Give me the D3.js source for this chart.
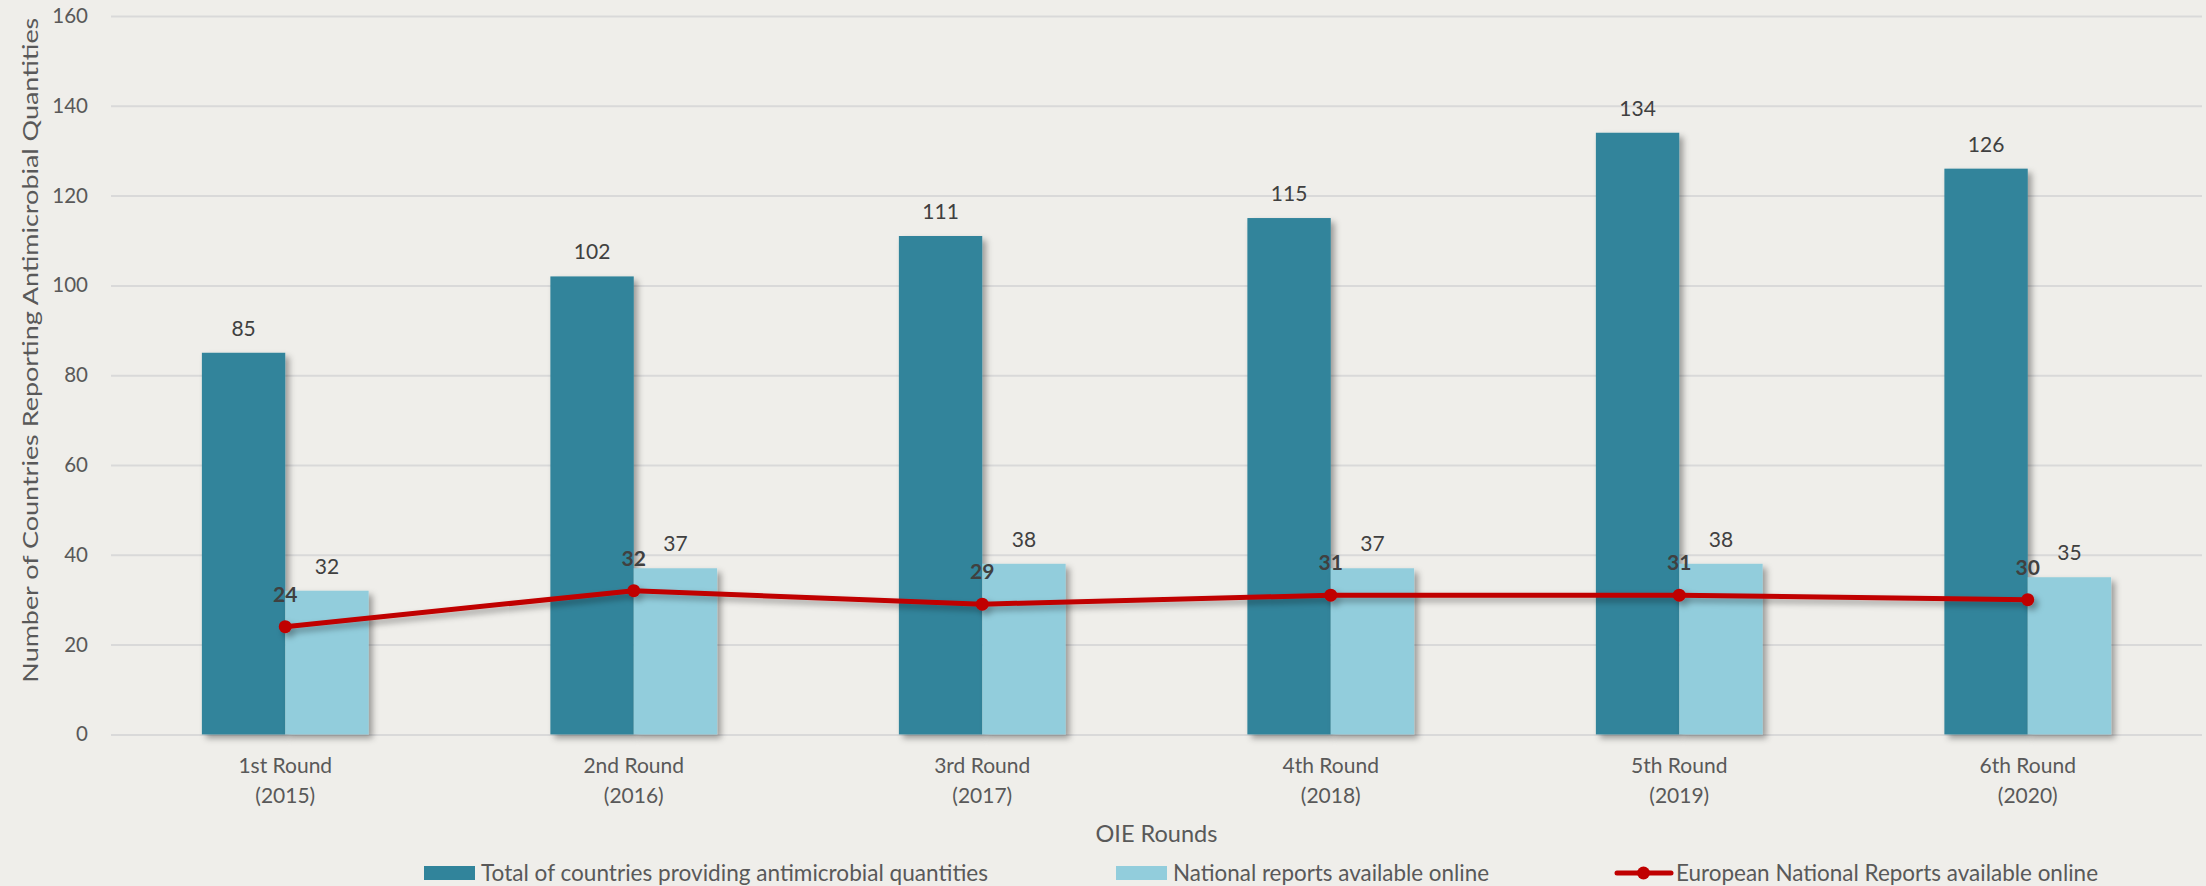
<!DOCTYPE html>
<html>
<head>
<meta charset="utf-8">
<script src="https://cdn.jsdelivr.net/npm/d3@7"></script>
<style>
  html, body { margin: 0; padding: 0; background: #efeeea; }
  svg { display: block; font-family: Lato, "Open Sans", sans-serif; }
</style>
</head>
<body>
<svg id="chart" width="2206" height="886"></svg>
<script>
// Data: OIE rounds of antimicrobial-use reporting
const rounds = ["1st Round", "2nd Round", "3rd Round", "4th Round", "5th Round", "6th Round"];
const years = ["(2015)", "(2016)", "(2017)", "(2018)", "(2019)", "(2020)"];
const totalCountries = [85, 102, 111, 115, 134, 126];
const nationalReports = [32, 37, 38, 37, 38, 35];
const europeanReports = [24, 32, 29, 31, 31, 30];
const yTicks = [0, 20, 40, 60, 80, 100, 120, 140, 160];
const seriesNames = [
  "Total of countries providing antimicrobial quantities",
  "National reports available online",
  "European National Reports available online"
];

const colors = { total: "#31849b", national: "#92cddc", european: "#c00000" };
const textColor = "#595959";
const labelColor = "#404040";
const gridColor = "#d9d9d9";

const svg = d3.select("#chart");
const plot = { left: 111, right: 2202, top: 16, bottom: 734.4 };

// Soft drop shadow used by bars and the line
const defs = svg.append("defs");
const shadow = defs.append("filter").attr("id", "shadow")
  .attr("x", "-20%").attr("y", "-20%").attr("width", "150%").attr("height", "150%");
shadow.append("feDropShadow").attr("dx", 4).attr("dy", 4).attr("stdDeviation", 3)
  .attr("flood-color", "#000").attr("flood-opacity", 0.35);

const y = d3.scaleLinear().domain([0, 160]).range([plot.bottom, plot.top]);
const x0 = d3.scaleBand().domain(rounds).range([plot.left, plot.right]).padding(0);
const x1 = d3.scaleBand().domain(["total", "national"])
  .range([0, x0.bandwidth()]).paddingInner(0).paddingOuter(1.09);

// Gridlines and y tick labels
const yAxis = svg.append("g")
  .attr("transform", `translate(${plot.left},0)`)
  .call(d3.axisLeft(y).tickValues(yTicks).tickSize(-(plot.right - plot.left)).tickPadding(23));
yAxis.select(".domain").remove();
yAxis.selectAll(".tick line").attr("stroke", gridColor).attr("stroke-width", 2);
yAxis.selectAll(".tick text")
  .attr("fill", textColor).attr("font-size", 20.5)
  .attr("font-family", "Lato, 'Open Sans', sans-serif");

// Y axis title
svg.append("text")
  .attr("transform", `translate(38,${(plot.top + plot.bottom) / 2 - 25}) rotate(-90)`)
  .attr("text-anchor", "middle")
  .attr("fill", textColor).attr("font-size", 22)
  .attr("textLength", 665).attr("lengthAdjust", "spacingAndGlyphs")
  .text("Number of Countries Reporting Antimicrobial Quantities");

// Bars
const groups = svg.append("g").selectAll("g")
  .data(rounds).join("g")
  .attr("transform", d => `translate(${x0(d)},0)`);

const barData = (i) => [
  { key: "total", value: totalCountries[i] },
  { key: "national", value: nationalReports[i] }
];

groups.each(function(r, i) {
  const g = d3.select(this);
  const bars = barData(i);
  g.selectAll("rect").data(bars).join("rect")
    .attr("x", d => x1(d.key))
    .attr("y", d => y(d.value))
    .attr("width", x1.bandwidth())
    .attr("height", d => y(0) - y(d.value))
    .attr("fill", d => colors[d.key])
    .attr("filter", "url(#shadow)");
  g.selectAll("text.val").data(bars).join("text")
    .attr("class", "val")
    .attr("x", d => x1(d.key) + x1.bandwidth() / 2)
    .attr("y", d => y(d.value) - 17)
    .attr("text-anchor", "middle")
    .attr("fill", labelColor).attr("font-size", 21)
    .text(d => d.value);
});

// European reports line with markers
const cx = (i) => x0(rounds[i]) + x0.bandwidth() / 2;
const line = d3.line().x((d, i) => cx(i)).y(d => y(d));
const lineG = svg.append("g").attr("filter", "url(#shadow)");
lineG.append("path")
  .datum(europeanReports)
  .attr("d", line)
  .attr("fill", "none")
  .attr("stroke", colors.european)
  .attr("stroke-width", 5)
  .attr("stroke-linejoin", "round");
lineG.selectAll("circle").data(europeanReports).join("circle")
  .attr("cx", (d, i) => cx(i))
  .attr("cy", d => y(d))
  .attr("r", 6.5)
  .attr("fill", colors.european);
svg.append("g").selectAll("text").data(europeanReports).join("text")
  .attr("x", (d, i) => cx(i))
  .attr("y", d => y(d) - 25)
  .attr("text-anchor", "middle")
  .attr("fill", labelColor).attr("font-size", 21).attr("font-weight", "bold")
  .text(d => d);

// Category labels (two lines)
const xl = svg.append("g").selectAll("text").data(rounds).join("text")
  .attr("x", d => x0(d) + x0.bandwidth() / 2)
  .attr("y", 773)
  .attr("text-anchor", "middle")
  .attr("fill", textColor).attr("font-size", 21);
xl.append("tspan").attr("x", d => x0(d) + x0.bandwidth() / 2).text(d => d);
xl.append("tspan").attr("x", d => x0(d) + x0.bandwidth() / 2).attr("dy", 30)
  .text((d, i) => years[i]);

// X axis title
svg.append("text")
  .attr("x", (plot.left + plot.right) / 2)
  .attr("y", 842)
  .attr("text-anchor", "middle")
  .attr("fill", textColor).attr("font-size", 23)
  .attr("textLength", 122).attr("lengthAdjust", "spacingAndGlyphs")
  .text("OIE Rounds");

// Legend
const legend = svg.append("g");
const legendY = 873;
legend.append("rect").attr("x", 424).attr("y", legendY - 7).attr("width", 51).attr("height", 14)
  .attr("fill", colors.total);
legend.append("text").attr("x", 481).attr("y", legendY + 8)
  .attr("fill", textColor).attr("font-size", 23)
  .attr("textLength", 507).attr("lengthAdjust", "spacingAndGlyphs")
  .text(seriesNames[0]);
legend.append("rect").attr("x", 1116).attr("y", legendY - 7).attr("width", 51).attr("height", 14)
  .attr("fill", colors.national);
legend.append("text").attr("x", 1173).attr("y", legendY + 8)
  .attr("fill", textColor).attr("font-size", 23)
  .attr("textLength", 316).attr("lengthAdjust", "spacingAndGlyphs")
  .text(seriesNames[1]);
legend.append("line").attr("x1", 1617).attr("x2", 1671).attr("y1", legendY).attr("y2", legendY)
  .attr("stroke", colors.european).attr("stroke-width", 5).attr("stroke-linecap", "round");
legend.append("circle").attr("cx", 1643.5).attr("cy", legendY).attr("r", 6.5)
  .attr("fill", colors.european);
legend.append("text").attr("x", 1676).attr("y", legendY + 8)
  .attr("fill", textColor).attr("font-size", 23)
  .attr("textLength", 422).attr("lengthAdjust", "spacingAndGlyphs")
  .text(seriesNames[2]);
</script>
</body>
</html>
